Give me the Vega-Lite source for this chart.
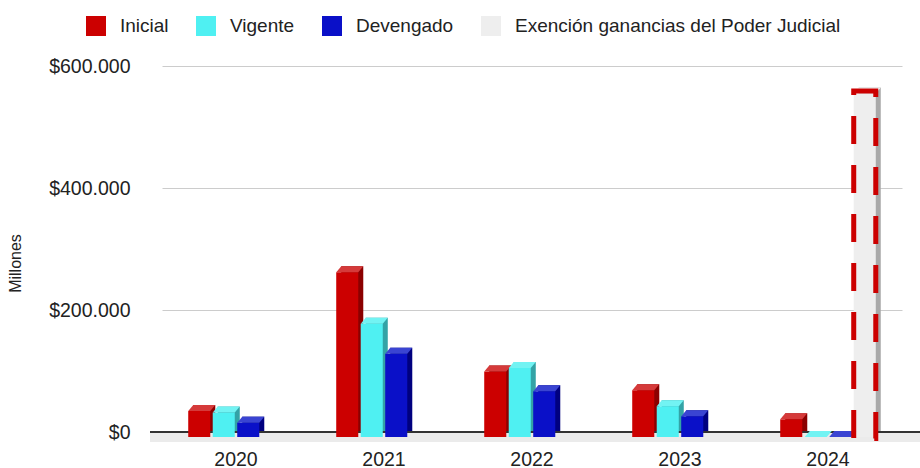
{
  "$schema": "https://vega.github.io/schema/vega-lite/v6.json",
  "width": 770,
  "height": 366,
  "autosize": "none",
  "padding": {"left": 150, "top": 66, "right": 0, "bottom": 36},
  "background": "white",
  "config": {
    "locale": {"number": {"decimal": ",", "thousands": ".", "grouping": [3], "currency": ["$", ""]}},
    "view": {"stroke": null},
    "font": "Liberation Sans",
    "axisX": {"labelAngle": 0, "labelFontSize": 19.5, "labelColor": "#222222", "labelPadding": 18, "ticks": false, "domain": false, "grid": false},
    "axisY": {"labelFontSize": 19.5, "labelColor": "#222222", "labelPadding": 20, "ticks": false, "domain": false, "grid": true, "gridColor": "#cccccc", "gridWidth": 1, "titleFontSize": 16, "titleFontWeight": "normal", "titleColor": "#222222", "titleX": -135, "titleY": 197, "titleAngle": -90, "titleAlign": "center", "titleBaseline": "middle"}
  },
  "data": {
    "values": [
      {"year": "2020", "series": "Inicial", "value": 42600},
      {"year": "2020", "series": "Vigente", "value": 40000},
      {"year": "2020", "series": "Devengado", "value": 23500},
      {"year": "2021", "series": "Inicial", "value": 270000},
      {"year": "2021", "series": "Vigente", "value": 185700},
      {"year": "2021", "series": "Devengado", "value": 136600},
      {"year": "2022", "series": "Inicial", "value": 107500},
      {"year": "2022", "series": "Vigente", "value": 113100},
      {"year": "2022", "series": "Devengado", "value": 74800},
      {"year": "2023", "series": "Inicial", "value": 76500},
      {"year": "2023", "series": "Vigente", "value": 50300},
      {"year": "2023", "series": "Devengado", "value": 34000},
      {"year": "2024", "series": "Inicial", "value": 29000},
      {"year": "2024", "series": "Vigente", "value": 0},
      {"year": "2024", "series": "Devengado", "value": 0},
      {"year": "2024", "series": "Exención ganancias del Poder Judicial", "value": 563000}
    ]
  },
  "layer": [
    {
      "mark": {"type": "rule", "color": "#ebebeb", "strokeWidth": 10, "yOffset": 5},
      "encoding": {"y": {"datum": 0, "type": "quantitative", "axis": {"title": "Millones", "values": [0, 200000, 400000, 600000], "format": "$,.0f"}}}
    },
    {
      "mark": {"type": "bar", "yOffset": -1, "y2Offset": -1},
      "encoding": {
        "x": {"field": "year", "type": "nominal", "scale": {"range": [12, 752], "paddingInner": 0.3378, "paddingOuter": 0.1689}, "axis": {"title": null}},
        "xOffset": {"field": "series", "type": "nominal", "scale": {"domain": ["Inicial", "Vigente", "Devengado", "Exención ganancias del Poder Judicial"], "range": [5, 103], "paddingInner": 0.1, "paddingOuter": 0.05}},
        "y": {"field": "value", "type": "quantitative", "scale": {"domain": [0, 600000], "nice": false}, "axis": {"title": "Millones", "values": [0, 200000, 400000, 600000], "format": "$,.0f"}},
        "y2": {"datum": 0},
        "color": {"field": "series", "type": "nominal", "scale": {"domain": ["Inicial", "Vigente", "Devengado", "Exención ganancias del Poder Judicial"], "range": ["#8b0000", "#33a3a6", "#00007f", "#a9a9a9"]}, "legend": null}
      }
    },
    {
      "mark": {"type": "rule", "color": "#333333", "strokeWidth": 1.5},
      "encoding": {"y": {"datum": 0, "type": "quantitative", "axis": {"title": "Millones", "values": [0, 200000, 400000, 600000], "format": "$,.0f"}}}
    },
    {
      "layer": [
        {
          "mark": {"type": "bar", "yOffset": 5, "y2Offset": 5},
          "encoding": {
            "x": {"field": "year", "type": "nominal", "axis": {"title": null}},
            "xOffset": {"field": "series", "type": "nominal", "scale": {"domain": ["Inicial", "Vigente", "Devengado", "Exención ganancias del Poder Judicial"], "range": [0, 98], "paddingInner": 0.1, "paddingOuter": 0.05}},
            "y": {"field": "value", "type": "quantitative", "axis": {"title": "Millones", "values": [0, 200000, 400000, 600000], "format": "$,.0f"}},
            "y2": {"datum": 0},
            "color": {"field": "series", "type": "nominal", "scale": {"domain": ["Inicial", "Vigente", "Devengado", "Exención ganancias del Poder Judicial"], "range": ["#cc0000", "#4ff0f2", "#0a10c8", "#eeeeee"]}, "legend": {"orient": "none", "legendX": -64, "legendY": -50, "direction": "horizontal", "title": null, "symbolType": "square", "symbolSize": 400, "symbolStrokeWidth": 0, "symbolOpacity": 1, "labelFontSize": 19, "labelOffset": 14, "columnPadding": 27, "labelColor": "#222222", "padding": 0, "labelLimit": 500}}
          }
        },
        {
          "mark": {"type": "point", "filled": true, "opacity": 1, "size": 4, "strokeWidth": 0, "yOffset": 5, "shape": "M-11,0L11,0L16,-6L-6,-6Z"},
          "encoding": {
            "x": {"field": "year", "type": "nominal", "axis": {"title": null}},
            "xOffset": {"field": "series", "type": "nominal"},
            "y": {"field": "value", "type": "quantitative", "axis": {"title": "Millones", "values": [0, 200000, 400000, 600000], "format": "$,.0f"}},
            "fill": {"field": "series", "type": "nominal", "scale": {"domain": ["Inicial", "Vigente", "Devengado", "Exención ganancias del Poder Judicial"], "range": ["#d53a3a", "#72f3f3", "#3a44d2", "#f6f6f6"]}, "legend": null}
          }
        },
        {
          "transform": [{"filter": "datum.series == 'Exención ganancias del Poder Judicial'"}],
          "mark": {"type": "bar", "fill": null, "fillOpacity": 0, "stroke": "#cc0000", "strokeWidth": 5, "strokeDash": [28, 21], "yOffset": 2.5, "y2Offset": 6.5},
          "encoding": {
            "x": {"field": "year", "type": "nominal", "axis": {"title": null}},
            "xOffset": {"field": "series", "type": "nominal"},
            "y": {"field": "value", "type": "quantitative", "axis": {"title": "Millones", "values": [0, 200000, 400000, 600000], "format": "$,.0f"}},
            "y2": {"datum": 0}
          }
        }
      ]
    }
  ],
  "resolve": {"scale": {"color": "independent", "xOffset": "independent"}}
}
